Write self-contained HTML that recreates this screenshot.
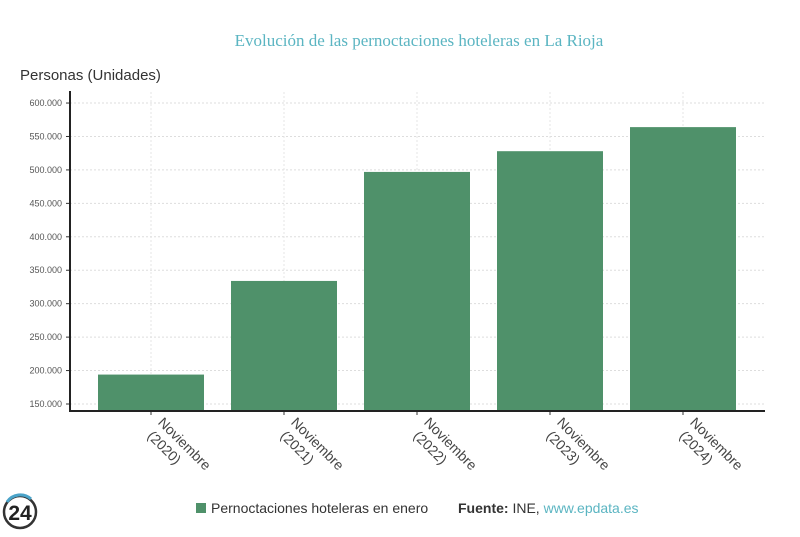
<!DOCTYPE html>
<html><head><meta charset="utf-8"><style>
body{margin:0;background:#fff;width:800px;height:532px;overflow:hidden;font-family:"Liberation Sans",sans-serif}
</style></head><body>
<svg width="800" height="532" id="svg">
<text x="419" y="46" text-anchor="middle" font-family="Liberation Serif" font-size="17" fill="#5bb5c2">Evolución de las pernoctaciones hoteleras en La Rioja</text>
<text x="20" y="80" font-size="15" fill="#333">Personas (Unidades)</text>
<g id="grid"></g><g id="bars"></g><g id="axes"></g>
<g>
<rect x="196" y="503" width="10" height="10" fill="#4f916a"/>
<text x="211" y="513" font-size="14" fill="#333">Pernoctaciones hoteleras en enero</text>
<text x="458" y="513" font-size="14" fill="#333"><tspan font-weight="bold">Fuente:</tspan> INE, <tspan fill="#5bb5c2">www.epdata.es</tspan></text>
</g>
<g>
<circle cx="20" cy="512" r="16" fill="none" stroke="#333" stroke-width="2.5"/>
<path d="M7 502 A16 16 0 0 1 31 499" fill="none" stroke="#4aa3c9" stroke-width="3"/>
<text x="20" y="520" text-anchor="middle" font-size="21" font-weight="bold" fill="#222">24</text>
</g>
</svg>
<script>
const categories=["Noviembre (2020)","Noviembre (2021)","Noviembre (2022)","Noviembre (2023)","Noviembre (2024)"];
const values=[194000,334000,497000,528000,564000];
const ticks=[150000,200000,250000,300000,350000,400000,450000,500000,550000,600000];
const NS="http://www.w3.org/2000/svg";
const X0=70,X1=765,YB=411;
function y(v){return 404-(v-150000)/50000*33.44;}
function xc(i){return 151+133*i;}
const bw=106;
function mk(t,a,p){const e=document.createElementNS(NS,t);for(const k in a)e.setAttribute(k,a[k]);p.appendChild(e);return e;}
const grid=document.getElementById('grid'),bars=document.getElementById('bars'),axes=document.getElementById('axes');
ticks.forEach(t=>{
 const l=mk('line',{x1:X0,x2:X1,y1:y(t),y2:y(t),stroke:'#ddd','stroke-dasharray':'2,2'},grid);
 
 
 mk('line',{x1:X0-4,x2:X0,y1:y(t),y2:y(t),stroke:'#333'},axes);
 const tx=mk('text',{x:X0-8,y:y(t)+3,'text-anchor':'end','font-size':9,fill:'#555'},axes);
 tx.textContent=t.toLocaleString('de-DE');
 
 
});
categories.forEach((c,i)=>{
 const cx=xc(i);
 mk('line',{x1:cx,x2:cx,y1:92,y2:YB,stroke:'#e4e4e4','stroke-dasharray':'2,2'},grid);
 const r=mk('rect',{x:cx-bw/2,y:y(values[i]),width:bw,height:YB-y(values[i]),fill:'#4f916a'},bars);
 
 
 mk('line',{x1:cx,x2:cx,y1:YB,y2:YB+4,stroke:'#333'},axes);
 const parts=c.split(' ');
 const g=mk('text',{transform:`translate(${cx+2},${YB+8}) rotate(45)`,'font-size':14,fill:'#444'},axes);
 
 
 const t1=mk('tspan',{x:6,y:0},g);t1.textContent=parts[0];
 const t2=mk('tspan',{x:8,y:17},g);t2.textContent=parts[1];
});
mk('line',{x1:X0,x2:X0,y1:91,y2:YB+1,stroke:'#222','stroke-width':2},axes);
mk('line',{x1:X0,x2:X1,y1:YB,y2:YB,stroke:'#222','stroke-width':2},axes);
</script>
</body></html>
